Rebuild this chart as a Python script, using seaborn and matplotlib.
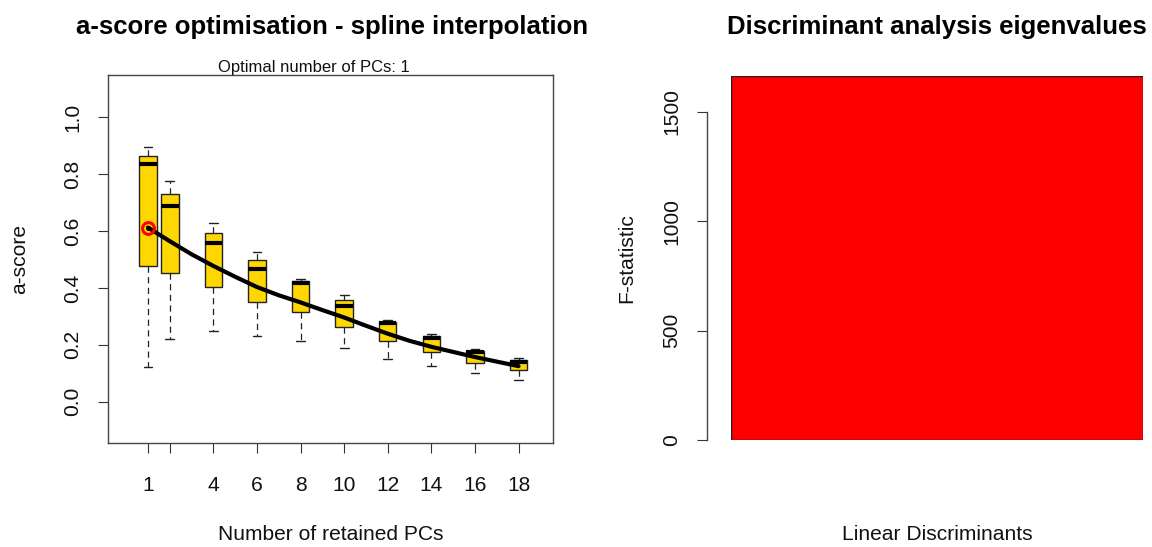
import numpy as np
import pandas as pd
import matplotlib
matplotlib.use("Agg")
import matplotlib.pyplot as plt
import seaborn as sns
from matplotlib import font_manager

# ---------------- data ----------------
n_pcs = [1, 2, 4, 6, 8, 10, 12, 14, 16, 18]
whisker_low = [0.121, 0.219, 0.250, 0.230, 0.214, 0.189, 0.150, 0.127, 0.100, 0.076]
q1 = [0.478, 0.451, 0.403, 0.349, 0.316, 0.263, 0.213, 0.175, 0.135, 0.110]
median = [0.837, 0.686, 0.559, 0.468, 0.418, 0.337, 0.276, 0.225, 0.174, 0.141]
q3 = [0.865, 0.730, 0.593, 0.497, 0.425, 0.357, 0.281, 0.231, 0.179, 0.148]
whisker_high = [0.894, 0.775, 0.629, 0.525, 0.431, 0.375, 0.287, 0.238, 0.185, 0.155]

spline_x = [1, 2, 3, 4, 5, 6, 7, 8, 9, 10, 11, 12, 13, 14, 15, 16, 17, 18]
spline_y = [0.612, 0.564, 0.518, 0.477, 0.439, 0.403, 0.374, 0.349, 0.322,
            0.296, 0.267, 0.239, 0.214, 0.193, 0.175, 0.157, 0.141, 0.125]

optimal_pc = [1]
optimal_score = [0.612]

x_tick_values = [1, 2, 4, 6, 8, 10, 12, 14, 16, 18]
x_tick_labels = ["1", "", "4", "6", "8", "10", "12", "14", "16", "18"]
y_tick_values = [0.0, 0.2, 0.4, 0.6, 0.8, 1.0]
y_tick_labels = ["0.0", "0.2", "0.4", "0.6", "0.8", "1.0"]

ld_labels = ["LD1"]
f_statistic = [1664]
f_tick_values = [0, 500, 1000, 1500]
f_tick_labels = ["0", "500", "1000", "1500"]

# long-form table (five points per group reproduce the box statistics)
rows = []
for i, pc in enumerate(n_pcs):
    for v in (whisker_low[i], q1[i], median[i], q3[i], whisker_high[i]):
        rows.append({"n_pc": pc, "ascore": v})
df_box = pd.DataFrame(rows)
df_spline = pd.DataFrame({"n_pc": spline_x, "ascore": spline_y})
df_bar = pd.DataFrame({"ld": ld_labels, "f": f_statistic})

# ---------------- style ----------------
sns.set_style("ticks")
plt.rcParams["font.family"] = ["Liberation Sans", "DejaVu Sans"]
plt.rcParams["text.color"] = "black"
installed = {f.name for f in font_manager.fontManager.ttflist}
if "Liberation Sans Narrow" in installed:
    sub_family, sub_size = ["Liberation Sans Narrow", "Liberation Sans"], 13.7
else:
    sub_family, sub_size = ["Liberation Sans", "DejaVu Sans"], 12.0

W, H = 1152, 547
fig = plt.figure(figsize=(W / 100, H / 100), dpi=100)
ax1 = fig.add_axes([108 / W, 1 - 443 / H, 445 / W, 368 / H])
ax2 = fig.add_axes([731 / W, 1 - 440 / H, 412 / W, 364 / H])

LBL = 15.1
TTL = 18.5
edge = "#222222"
txt = "#111111"

# ---------------- left panel ----------------
sns.boxplot(data=df_box, x="n_pc", y="ascore", native_scale=True, ax=ax1,
            width=0.8, whis=(0, 100), color="#FFD700", saturation=1,
            linecolor=edge, linewidth=1.0, showfliers=False,
            medianprops={"color": "black", "linewidth": 3.0},
            whiskerprops={"linestyle": (0, (5, 3.5)), "linewidth": 0.9},
            capprops={"linewidth": 1.0})
sns.lineplot(data=df_spline, x="n_pc", y="ascore", ax=ax1, color="black",
             linewidth=3.0, zorder=5)
ax1.plot(optimal_pc, optimal_score, "o", ms=8.5, mfc="none", mec="red",
         mew=2.2, zorder=6)
ax1.plot(optimal_pc, optimal_score, "o", ms=2.5, color="black", zorder=7)

ax1.set_xlim(-0.835, 19.58)
ax1.set_ylim(-0.145, 1.148)
ax1.set_xticks(x_tick_values)
ax1.set_xticklabels(x_tick_labels)
ax1.set_yticks(y_tick_values)
ax1.set_yticklabels(y_tick_labels)
for s in ax1.spines.values():
    s.set_visible(True)
    s.set_color("#444444")
    s.set_linewidth(1.0)
ax1.tick_params(axis="both", direction="out", length=7.2, width=0.8,
                color="#333333", labelsize=LBL, labelcolor=txt)
ax1.tick_params(axis="x", pad=16.5)
ax1.tick_params(axis="y", pad=11.5, labelrotation=90)
plt.setp(ax1.get_yticklabels(), va="center")

ax1.set_xlabel("Number of retained PCs", fontsize=LBL, color=txt)
ax1.set_ylabel("a-score", fontsize=LBL, color=txt)
ax1.xaxis.set_label_coords(0.5, (443 - 535) / 368)
ax1.xaxis.label.set_va("center")
ax1.yaxis.set_label_coords((20 - 108) / 445, 0.5)
ax1.yaxis.label.set_va("center")
ax1.set_title("a-score optimisation - spline interpolation", fontsize=TTL,
              fontweight="bold", y=(443 - 27) / 368, va="center",
              x=(332 - 108) / 445, pad=0, color="black")
fig.text(313.5 / W, 1 - 72 / H, "Optimal number of PCs: 1", ha="center",
         va="baseline", fontsize=sub_size, family=sub_family, color=txt)

# ---------------- right panel ----------------
sns.barplot(data=df_bar, x="ld", y="f", ax=ax2, color="red", saturation=1,
            width=1.0, edgecolor="#222222", linewidth=1.0)
for side in ("top", "right", "bottom"):
    ax2.spines[side].set_visible(False)
ax2.spines["left"].set_position(("outward", 17))
ax2.spines["left"].set_bounds(0, 1500)
ax2.spines["left"].set_color("#444444")
ax2.spines["left"].set_linewidth(1.0)
ax2.set_xlim(-0.5, 0.5)
ax2.set_ylim(0, f_statistic[0])
ax2.set_yticks(f_tick_values)
ax2.set_yticklabels(f_tick_labels)
ax2.set_xticks([])
ax2.tick_params(axis="y", direction="out", length=7.2, width=0.8,
                color="#333333", labelsize=LBL, labelcolor=txt, pad=11.5,
                labelrotation=90)
plt.setp(ax2.get_yticklabels(), va="center")
ax2.set_xlabel("Linear Discriminants", fontsize=LBL, color=txt)
ax2.set_ylabel("F-statistic", fontsize=LBL, color=txt)
ax2.xaxis.set_label_coords(0.5, (440 - 535) / 364)
ax2.xaxis.label.set_va("center")
ax2.yaxis.set_label_coords((627 - 731) / 412, 0.5)
ax2.yaxis.label.set_va("center")
ax2.set_title("Discriminant analysis eigenvalues", fontsize=TTL,
              fontweight="bold", y=(440 - 27) / 364, va="center", pad=0,
              color="black")

fig.savefig("out.png", dpi=100)
